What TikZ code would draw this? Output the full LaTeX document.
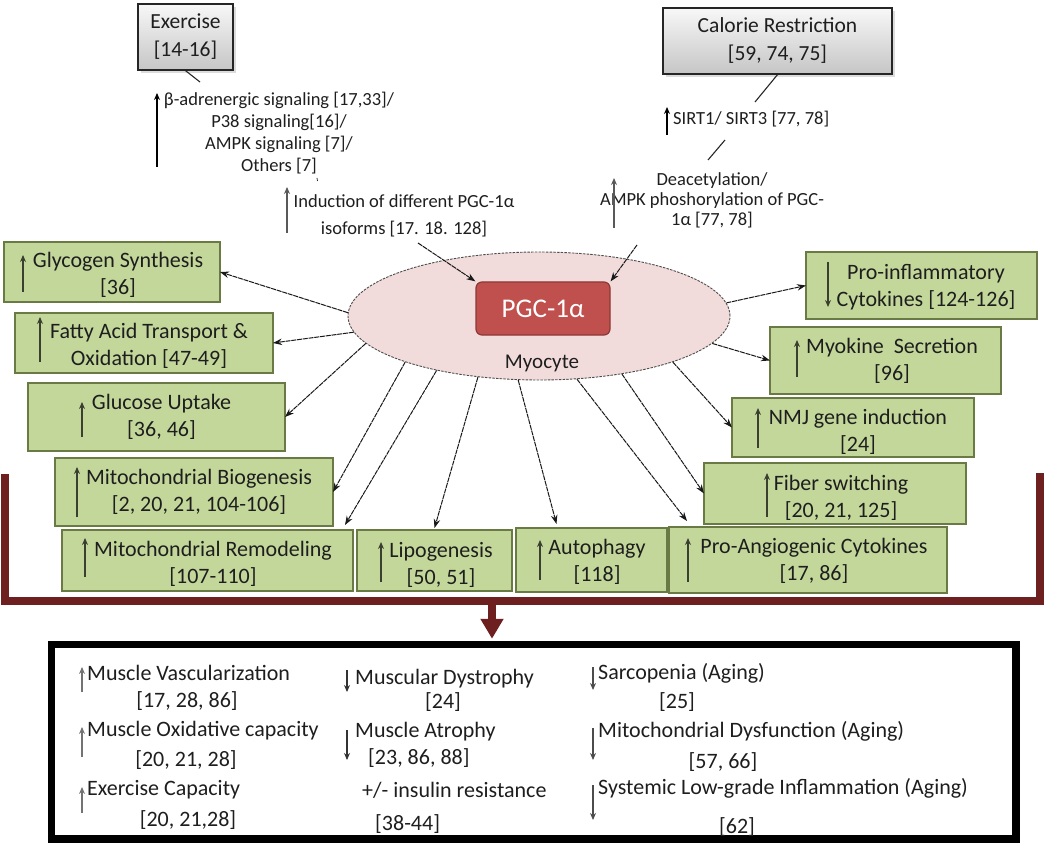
\documentclass[tikz,border=0pt]{standalone}
\usepackage{fontspec}
\setmainfont{Carlito}
\usetikzlibrary{arrows.meta,shapes.geometric,shadows,fit}
\definecolor{gfill}{HTML}{C4D79B}
\definecolor{gdraw}{HTML}{6A7A45}
\definecolor{efill}{HTML}{F2DCDB}
\definecolor{pgcfill}{HTML}{C0504D}
\definecolor{pgcdraw}{HTML}{8C3836}
\definecolor{brk}{HTML}{6E2020}
\definecolor{txt}{HTML}{1E1E1E}
\definecolor{arr}{HTML}{3A3F30}
\newcommand{\uarr}[3]{\draw[uparr] (#1,#2) -- (#1,#3);}
\newcommand{\nl}{\\\relax}
\begin{document}
\begin{tikzpicture}[x=1pt,y=-1pt,
  gbox/.style={draw=gdraw, fill=gfill, line width=1.4pt, inner sep=0pt, outer sep=0pt},
  graybox/.style={draw=black!85, line width=1.3pt, top color=gray!6, bottom color=gray!45,
     drop shadow={shadow xshift=3pt, shadow yshift=-3pt, fill=gray!55},
     inner sep=0pt, align=center, text=txt, font=\fontsize{21.5}{28}\selectfont},
  btxt/.style={inner sep=0pt, align=center, text=txt, font=\fontsize{22}{27}\selectfont},
  stxt/.style={inner sep=0pt, align=center, text=txt, font=\fontsize{18.5}{22}\selectfont},
  ltxt/.style={inner sep=0pt, text=txt, anchor=mid west, font=\fontsize{22}{26}\selectfont},
  ctxt/.style={inner sep=0pt, text=txt, font=\fontsize{22}{26}\selectfont},
  conn/.style={draw=black!90, line width=1pt, dash pattern=on 5pt off 0.8pt, -{Stealth[length=9pt,width=6.5pt]}},
  uparr/.style={draw=arr, line width=1.3pt, -{Stealth[length=7pt,width=6pt]}},
  plainln/.style={draw=black!85, line width=1.1pt}]
\useasboundingbox (0,0) rectangle (1050,845);

% ---------- top inputs ----------
\node[graybox, minimum width=95pt, minimum height=66pt] (ex) at (185.5,37) {Exercise\nl[14-16]};
\node[graybox, minimum width=229pt, minimum height=66pt] (cr) at (777.5,41) {Calorie Restriction\nl[59, 74, 75]};

\coordinate (exE) at (200,82);
\draw[plainln] (ex.south) -- (exE);
\node[stxt] (beta) at (279,133) {β-adrenergic signaling [17,33]/\\P38 signaling[16]/\\AMPK signaling [7]/\\Others [7]};
\draw[uparr, draw=black] (157,167) -- (157,93);
\draw[plainln, line width=0.8pt] (317,178) -- (317.5,181);

\node[stxt, font=\fontsize{18.5}{27}\selectfont] (ind) at (404,216) {Induction of different PGC-1α\\isoforms [17. 18. 128]};
\draw[uparr, draw=black!65] (287,233) -- (287,187);

\coordinate (crE) at (755,102);
\draw[plainln] (cr.south) -- (crE);
\node[stxt, anchor=mid west] (sirt) at (673,122) {SIRT1/ SIRT3 [77, 78]};
\draw[uparr, draw=black] (667,135) -- (667,107);
\coordinate (sA) at (725,140);
\coordinate (sB) at (708,160);
\draw[plainln] (sA) -- (sB);
\node[stxt, font=\fontsize{18.5}{20}\selectfont] (deac) at (712,200) {Deacetylation/\\AMPK phoshorylation of PGC-\\1α [77, 78]};
\draw[uparr, draw=black!65] (614,228) -- (614,178);

% ---------- myocyte ----------
\node[ellipse, draw=black!70, fill=efill, line width=0.9pt, dash pattern=on 2.5pt off 1.2pt,
      minimum width=382pt, minimum height=128pt, inner sep=0pt] (ell) at (539,316) {};
\node[draw=pgcdraw, fill=pgcfill, rounded corners=6pt, line width=1.2pt,
      minimum width=134pt, minimum height=53pt, inner sep=0pt,
      text=white, font=\fontsize{27}{30}\selectfont] (pgc) at (543,308.5) {PGC-1α};
\node[ctxt, font=\fontsize{21}{24}\selectfont] (myoc) at (542,363) {Myocyte};

\coordinate (indA) at (418,243);
\coordinate (deA) at (637,245);
\draw[conn] (indA) -- (pgc.north west);
\draw[conn] (deA) -- (pgc.north east);

% ---------- green boxes ----------
\node[gbox, fit={(4,242) (220,302)}] (gly) {};
\node[btxt] (glyT) at (118,274.5) {Glycogen Synthesis\nl[36]};
\uarr{23}{292}{255}
\node[gbox, fit={(15,313) (273,373)}] (fat) {};
\node[btxt] (fatT) at (149,345.5) {Fatty Acid Transport \&\\Oxidation [47-49]};
\uarr{40}{362}{317}
\node[gbox, fit={(28,383) (285,451)}] (glu) {};
\node[btxt] (gluT) at (161.5,417) {Glucose Uptake\nl[36, 46]};
\uarr{82}{437}{402}
\node[gbox, fit={(55,458) (333,526)}] (mb) {};
\node[btxt] (mbT) at (199,491.5) {Mitochondrial Biogenesis\nl[2, 20, 21, 104-106]};
\uarr{77}{517}{467}
\node[gbox, fit={(62,530) (353,591)}] (mr) {};
\node[btxt] (mrT) at (213,563.5) {Mitochondrial Remodeling\nl[107-110]};
\uarr{85}{577}{538}
\node[gbox, fit={(357,530) (512,591)}] (lip) {};
\node[btxt] (lipT) at (441,564.5) {Lipogenesis\nl[50, 51]};
\uarr{381}{582}{542}
\node[gbox, fit={(516,528) (667,592)}] (aut) {};
\node[btxt] (autT) at (597,561.5) {Autophagy\nl[118]};
\uarr{540}{580}{540}
\node[gbox, fit={(669,527) (947,593)}] (pa) {};
\node[btxt] (paT) at (814,561) {Pro-Angiogenic Cytokines\nl[17, 86]};
\uarr{688}{582}{538}
\node[gbox, fit={(704,463) (966,524)}] (fib) {};
\node[btxt] (fibT) at (841,497.5) {Fiber switching\nl[20, 21, 125]};
\uarr{767}{517}{473}
\node[gbox, fit={(732,398) (974,457)}] (nmj) {};
\node[btxt] (nmjT) at (858,432) {NMJ gene induction\nl[24]};
\uarr{758}{448}{408}
\node[gbox, fit={(770,327) (1001,394)}] (myo) {};
\node[btxt] (myoT) at (892,360.5) {Myokine~ Secretion\nl[96]};
\uarr{797}{377}{340}
\node[gbox, fit={(806,252) (1037,319)}] (pi) {};
\node[btxt] (piT) at (926,287.5) {Pro-inflammatory\\Cytokines [124-126]};
\uarr{828}{262}{307}

% ---------- connectors from myocyte ----------
\draw[conn] (ell.179) -- (gly.east);
\draw[conn] (ell.185) -- (fat.east);
\draw[conn] (ell.189) -- (glu.east);
\draw[conn] (ell.199) -- (mb.east);
\draw[conn] (ell.208) -- ([xshift=-8pt,yshift=5pt]mr.north east);
\draw[conn] (ell.225) -- ([yshift=2pt]lip.north);
\draw[conn] (ell.252) -- ([xshift=-35pt,yshift=4pt]aut.north);
\draw[conn] (ell.301) -- ([xshift=18pt,yshift=6pt]pa.north west);
\draw[conn] (ell.325) -- (fib.west);
\draw[conn] (ell.341) -- (nmj.west);
\draw[conn] (ell.351) -- (myo.west);
\draw[conn] (ell.4) -- (pi.west);

% ---------- bracket ----------
\draw[brk, line width=7.5pt, line join=miter] (5,474) -- (5,601) -- (1040,601) -- (1040,473);

% ---------- outcome box ----------
\node[draw=black, line width=7.5pt, minimum width=964.5pt, minimum height=194.5pt, inner sep=0pt] (bot) at (533.75,741.75) {};
\coordinate (brm) at (492,601);
\draw[brk, line width=7.5pt, -{Triangle[length=20pt,width=22pt]}] (brm) -- ([yshift=2pt]brm |- bot.north);

% column 1
\node[ltxt] (c11) at (87,678) {Muscle Vascularization};
\node[ctxt] (c11b) at (187,701) {[17, 28, 86]};
\draw[uparr, draw=black!55, line width=1.1pt] (82,692) -- (82,667);
\node[ltxt] (c12) at (87,734) {Muscle Oxidative capacity};
\node[ctxt] (c12b) at (186,760) {[20, 21, 28]};
\draw[uparr, draw=black!55, line width=1.1pt] (82,757) -- (82,727);
\node[ltxt] (c13) at (87,793) {Exercise Capacity};
\node[ctxt] (c13b) at (188,820) {[20, 21,28]};
\draw[uparr, draw=black!55, line width=1.1pt] (82,813) -- (82,787);
% column 2
\node[ltxt] (c21) at (355,682) {Muscular Dystrophy};
\node[ctxt] (c21b) at (443,702) {[24]};
\draw[uparr, draw=black!80, line width=1.1pt] (347,670) -- (347,692);
\node[ltxt] (c22) at (355,735) {Muscle Atrophy};
\node[ltxt] (c22b) at (368,762) {[23, 86, 88]};
\draw[uparr, draw=black!80, line width=1.1pt] (347,730) -- (347,760);
\node[ltxt] (c23) at (362,795) {+/- insulin resistance};
\node[ltxt] (c23b) at (375,828) {[38-44]};
% column 3
\node[ltxt] (c31) at (598,677) {Sarcopenia (Aging)};
\node[ctxt] (c31b) at (677,702) {[25]};
\draw[uparr, draw=black!70, line width=1.1pt] (593,667) -- (593,690);
\node[ltxt] (c32) at (598,735) {Mitochondrial Dysfunction (Aging)};
\node[ctxt] (c32b) at (723,762) {[57, 66]};
\draw[uparr, draw=black!70, line width=1.1pt] (593,728) -- (593,760);
\node[ltxt] (c33) at (598,792) {Systemic Low-grade Inflammation (Aging)};
\node[ctxt] (c33b) at (737,827) {[62]};
\draw[uparr, draw=black!70, line width=1.1pt] (593,785) -- (593,820);
\end{tikzpicture}
\end{document}
